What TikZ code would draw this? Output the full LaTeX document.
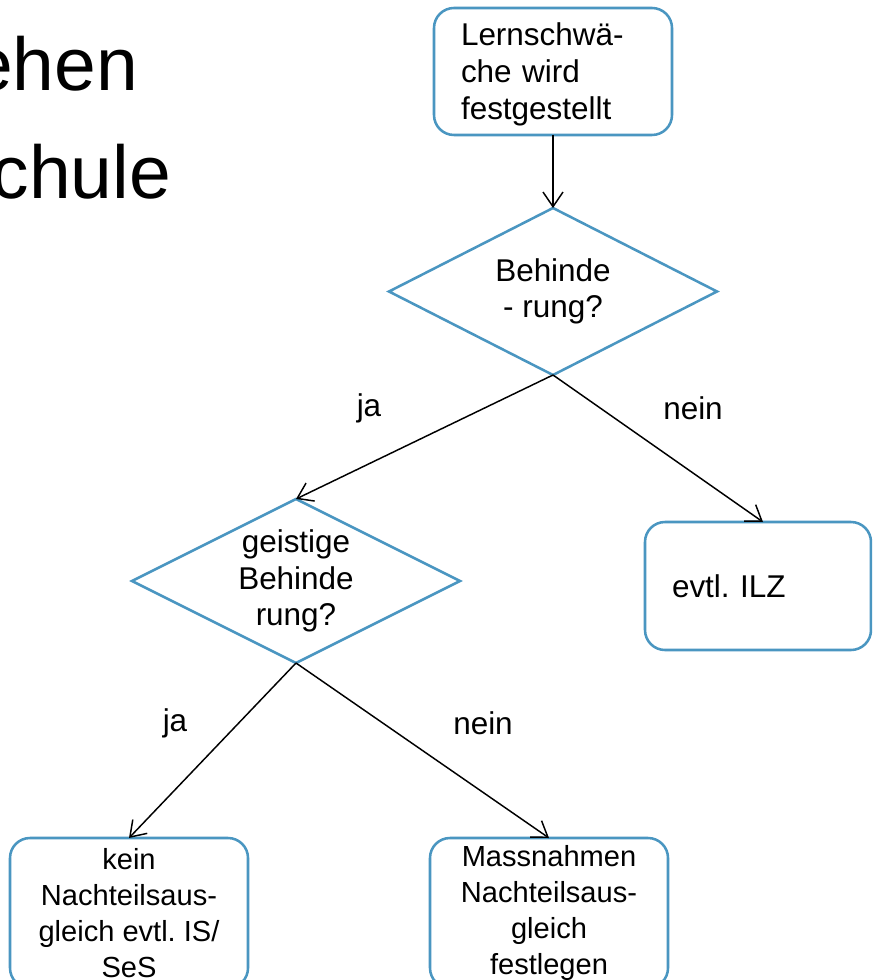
\documentclass[tikz,border=0pt]{standalone}
\usepackage{fontspec}
\setmainfont{Liberation Sans}
\frenchspacing
\usetikzlibrary{shapes.geometric,arrows.meta,calc}
\definecolor{flowblue}{RGB}{74,150,193}
\begin{document}
\begin{tikzpicture}[x=0.75pt,y=-0.75pt,
  every node/.style={inner sep=0pt,outer sep=0pt},
  txt/.style={font=\fontsize{23.6pt}{27.2pt}\selectfont},
  smalltxt/.style={font=\fontsize{21.8pt}{26.8pt}\selectfont},
  bigtxt/.style={font=\fontsize{56.25pt}{60pt}\selectfont},
  roundbox/.style={draw=flowblue,line width=1.9pt,rounded corners=15pt,fill=white,txt},
  decision/.style={draw=flowblue,line width=1.9pt,diamond,shape aspect=2,fill=white,txt,align=center},
  conn/.style={draw=black,line width=1.1pt,-{Straight Barb[length=11pt,width=15pt]}},
  lbl/.style={txt}]
\clip (0,0) rectangle (872,980);
\fill[white] (0,0) rectangle (872,980);

% cropped title text
\node[bigtxt,anchor=base east] (t1) at (138,91) {ehen};
\node[bigtxt,anchor=base east] (t2) at (171,199) {chule};

% boxes
\node[roundbox,minimum width=178.5pt,minimum height=95.25pt,text width=138pt,align=left,
  font=\fontsize{23.6pt}{27.9pt}\selectfont] (start) at (553,71.5)
  {\rule{0pt}{0.92em}Lernschwä-\\che wird\\festgestellt};
\node[decision,minimum width=246pt,minimum height=125.25pt] (d1) at (553,291.5)
  {Behinde\\- rung?};
\node[decision,minimum width=246pt,minimum height=123pt] (d2) at (296,581)
  {geistige\\Behinde\\rung?};
\node[roundbox,minimum width=169.5pt,minimum height=96pt,text width=129pt,align=left] (ilz) at (758,586)
  {evtl. ILZ};
\node[roundbox,smalltxt,minimum width=178.5pt,minimum height=112.5pt,align=center] (kein) at (129,913)
  {kein\\Nachteilsaus-\\gleich evtl. IS/\\SeS};
\node[roundbox,smalltxt,minimum width=178.5pt,minimum height=112.5pt,align=center] (mass) at (549,913)
  {Massnahmen\\Nachteilsaus-\\gleich\\festlegen};

% connectors
\draw[conn] (start.south) -- (d1.north);
\draw[conn] (d1.south) -- (d2.north);
\draw[conn] (d1.south) -- ([xshift=3.75pt]ilz.north);
\draw[conn] (d2.south) -- (kein.north);
\draw[conn] (d2.south) -- (mass.north);

% labels
\node[lbl] (ja1) at (369,408) {ja};
\node[lbl] (nein1) at (693,408) {nein};
\node[lbl] (ja2) at (175,723) {ja};
\node[lbl] (nein2) at (483,723) {nein};
\end{tikzpicture}
\end{document}
